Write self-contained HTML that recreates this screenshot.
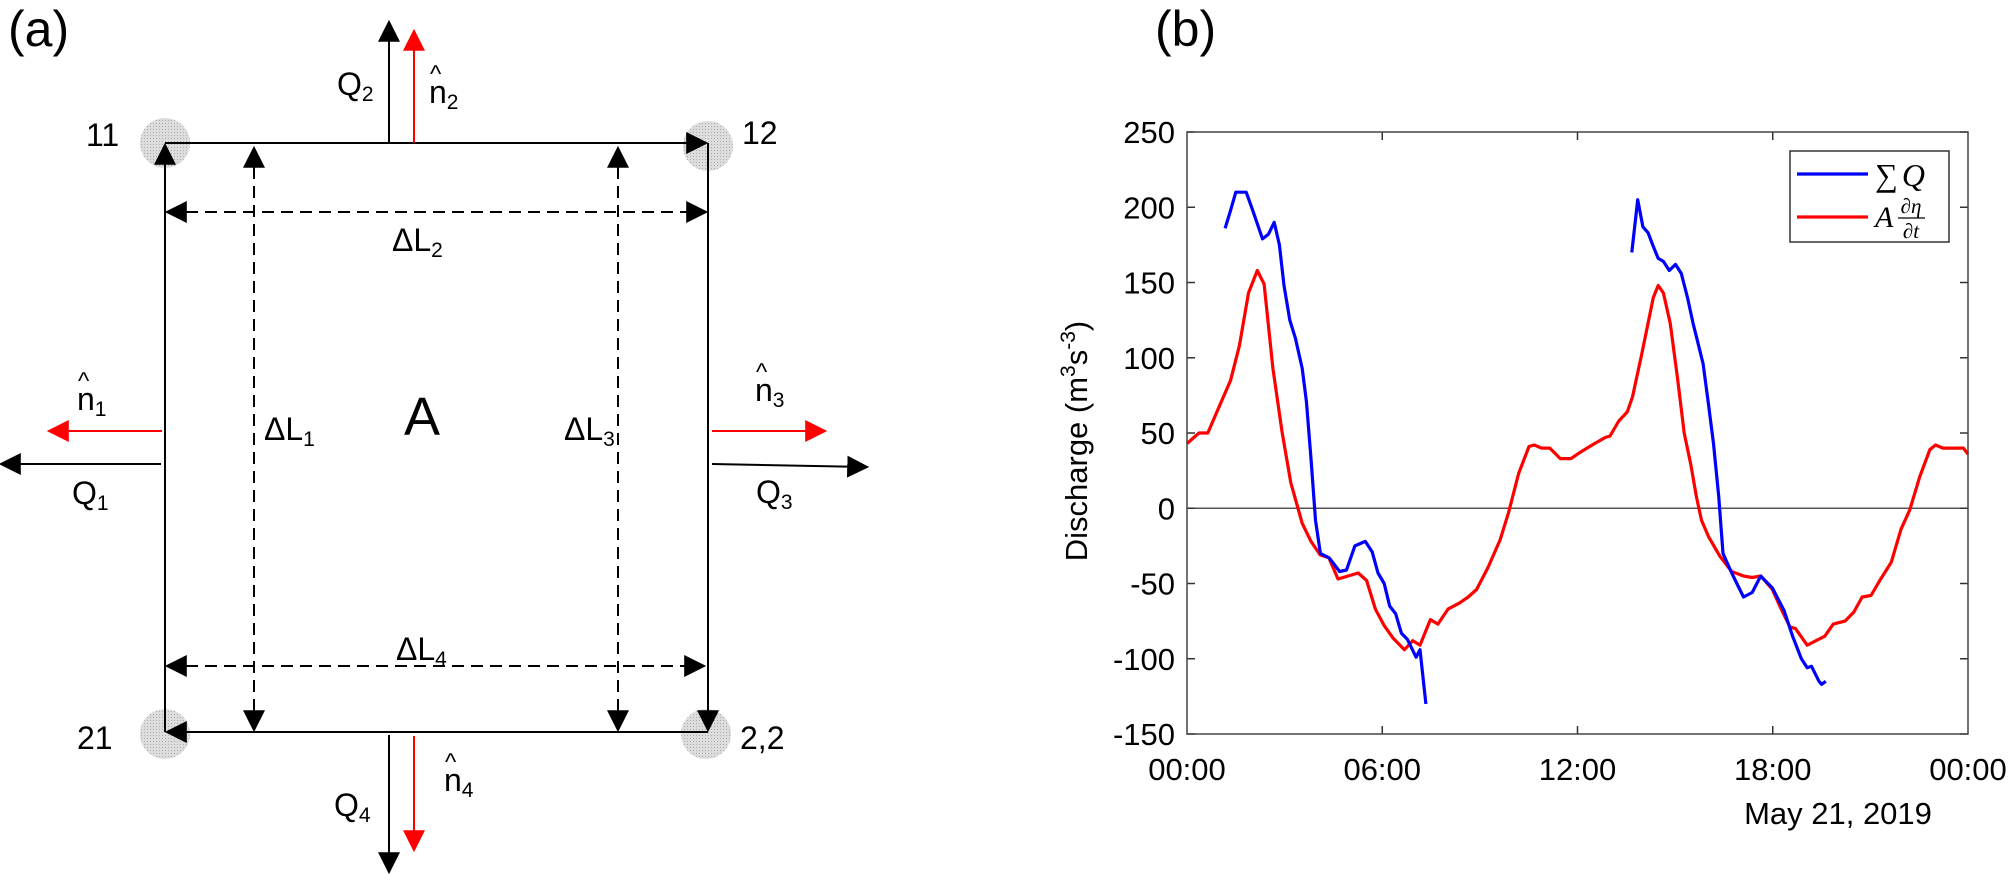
<!DOCTYPE html>
<html><head><meta charset="utf-8"><style>
body{margin:0;background:#fff;}
svg{display:block;font-family:"Liberation Sans",sans-serif;}
</style></head><body>
<svg id="fig" width="2009" height="874" viewBox="0 0 2009 874" xmlns="http://www.w3.org/2000/svg">
<defs>
<marker id="ab" viewBox="0 0 10 10" refX="9" refY="5" markerWidth="22" markerHeight="22" markerUnits="userSpaceOnUse" orient="auto-start-reverse"><path d="M0,0 L10,5 L0,10 z" fill="#000"/></marker>
<marker id="ar" viewBox="0 0 10 10" refX="9" refY="5" markerWidth="22" markerHeight="22" markerUnits="userSpaceOnUse" orient="auto"><path d="M0,0 L10,5 L0,10 z" fill="#f00"/></marker>
<pattern id="dots" width="3" height="3" patternUnits="userSpaceOnUse"><rect width="3" height="3" fill="#ddd"/><rect width="1" height="1" fill="#aaa"/></pattern>
</defs>
<g>
<text x="8" y="46" font-size="50">(a)</text>
<circle cx="165" cy="143" r="25" fill="url(#dots)"/>
<circle cx="708" cy="146" r="25" fill="url(#dots)"/>
<circle cx="165" cy="734" r="25" fill="url(#dots)"/>
<circle cx="706" cy="734" r="25" fill="url(#dots)"/>
<g stroke="#000" stroke-width="2" fill="none">
<line x1="165" y1="143" x2="706" y2="143" marker-end="url(#ab)"/>
<line x1="708" y1="143" x2="708" y2="730" marker-end="url(#ab)"/>
<line x1="708" y1="732" x2="167" y2="732" marker-end="url(#ab)"/>
<line x1="165" y1="732" x2="165" y2="145" marker-end="url(#ab)"/>
</g>
<g stroke="#000" stroke-width="2" stroke-dasharray="12,7" fill="none">
<line x1="254" y1="148" x2="254" y2="730" marker-start="url(#ab)" marker-end="url(#ab)"/>
<line x1="618" y1="148" x2="618" y2="730" marker-start="url(#ab)" marker-end="url(#ab)"/>
<line x1="167" y1="212" x2="706" y2="212" marker-start="url(#ab)" marker-end="url(#ab)"/>
<line x1="167" y1="666" x2="704" y2="666" marker-start="url(#ab)" marker-end="url(#ab)"/>
</g>
<g stroke-width="2" fill="none">
<line x1="389" y1="143" x2="389" y2="22" stroke="#000" marker-end="url(#ab)"/>
<line x1="414" y1="143" x2="414" y2="31" stroke="#f00" marker-end="url(#ar)"/>
<line x1="389" y1="735" x2="389" y2="872" stroke="#000" marker-end="url(#ab)"/>
<line x1="414" y1="736" x2="414" y2="850" stroke="#f00" marker-end="url(#ar)"/>
<line x1="162" y1="431" x2="49" y2="431" stroke="#f00" marker-end="url(#ar)"/>
<line x1="161" y1="464" x2="1" y2="464" stroke="#000" marker-end="url(#ab)"/>
<line x1="712" y1="431" x2="825" y2="431" stroke="#f00" marker-end="url(#ar)"/>
<line x1="712" y1="464" x2="867" y2="467" stroke="#000" marker-end="url(#ab)"/>
</g>
<g font-size="32" fill="#000">
<text x="86" y="146">11</text><text x="742" y="144">12</text>
<text x="77" y="749">21</text><text x="740" y="749">2,2</text>
<text x="337" y="95">Q<tspan font-size="21" dy="6">2</tspan></text>
<text x="334" y="816">Q<tspan font-size="21" dy="6">4</tspan></text>
<text x="72" y="504">Q<tspan font-size="21" dy="6">1</tspan></text>
<text x="756" y="503">Q<tspan font-size="21" dy="6">3</tspan></text>
<text x="429" y="103">n<tspan font-size="21" dy="6">2</tspan></text><text x="430" y="82" font-size="24">^</text>
<text x="77" y="410">n<tspan font-size="21" dy="6">1</tspan></text><text x="78" y="389" font-size="24">^</text>
<text x="755" y="401">n<tspan font-size="21" dy="6">3</tspan></text><text x="756" y="380" font-size="24">^</text>
<text x="444" y="791">n<tspan font-size="21" dy="6">4</tspan></text><text x="445" y="770" font-size="24">^</text>
<text x="392" y="251">ΔL<tspan font-size="21" dy="6">2</tspan></text>
<text x="396" y="660">ΔL<tspan font-size="21" dy="6">4</tspan></text>
<text x="264" y="440">ΔL<tspan font-size="21" dy="6">1</tspan></text>
<text x="564" y="440">ΔL<tspan font-size="21" dy="6">3</tspan></text>
<text x="404" y="435" font-size="54">A</text>
</g>
</g>
<text x="1155" y="46" font-size="50">(b)</text>
<g id="chart"></g>
</svg>
<script>
const hoursRed=[0,0.37,0.64,0.92,1.34,1.61,1.89,2.16,2.37,2.64,2.92,3.19,3.54,3.81,4.09,4.36,4.64,5.26,5.52,5.79,6.06,6.32,6.68,6.94,7.16,7.48,7.71,8.02,8.37,8.64,8.9,9.26,9.62,9.88,10.19,10.51,10.67,10.9,11.15,11.47,11.8,12.14,12.53,12.85,13.0,13.27,13.53,13.69,13.96,14.17,14.33,14.48,14.64,14.85,15.07,15.28,15.49,15.65,15.81,16.03,16.38,16.74,17.1,17.37,17.63,17.99,18.26,18.53,18.7,19.06,19.33,19.6,19.86,20.22,20.49,20.75,21.02,21.29,21.64,21.94,22.21,22.52,22.83,23.0,23.23,23.86,24.0];
const valuesRed=[43,50,50,64,85,108,143,158,149,93,51,17,-10,-22,-31,-33,-47,-43,-48,-67,-78,-86,-94,-88,-91,-74,-77,-67,-63,-59,-54,-39,-21,-3,23,41,42,40,40,33,33,38,43,47,48,58,64,74,101,123,140,148,143,123,87,50,28,8,-8,-19,-32,-42,-45,-46,-45,-54,-67,-79,-80,-91,-88,-85,-77,-75,-69,-59,-58,-48,-36,-14,-1,21,39,42,40,40,36];
const hoursBlue1=[1.17,1.34,1.5,1.82,2.02,2.32,2.5,2.68,2.84,2.98,3.16,3.33,3.54,3.67,3.81,3.95,4.1,4.37,4.69,4.9,5.16,5.48,5.69,5.87,6.06,6.23,6.41,6.59,6.77,7.04,7.16,7.34];
const valuesBlue1=[186,198,210,210,198,179,182,190,175,148,125,113,93,71,33,-8,-30,-33,-42,-41,-25,-22,-29,-43,-50,-65,-70,-83,-87,-99,-94,-130];
const hoursBlue2=[13.67,13.85,14.01,14.17,14.33,14.48,14.64,14.82,15.01,15.19,15.38,15.55,15.7,15.86,16.02,16.18,16.34,16.47,16.74,17.1,17.37,17.63,17.99,18.35,18.61,18.88,19.06,19.19,19.42,19.5,19.63];
const valuesBlue2=[170,205,187,183,174,166,164,158,162,156,140,123,110,96,70,43,8,-30,-43,-59,-56,-45,-53,-68,-85,-100,-106,-105,-115,-117,-115];
const yTicks=[250,200,150,100,50,0,-50,-100,-150];
const xTickHours=[0,6,12,18,24];
const xTickLabels=["00:00","06:00","12:00","18:00","00:00"];
const L=1187,R=1968,T=132,B=734;
const xS=h=>L+(h/24)*(R-L);
const yS=v=>T+(250-v)/400*(B-T);
const NS="http://www.w3.org/2000/svg";
const g=document.getElementById('chart');
function mk(tag,attrs,parent){const e=document.createElementNS(NS,tag);for(const k in attrs)e.setAttribute(k,attrs[k]);(parent||g).appendChild(e);return e;}
const zero=mk('line',{x1:L,x2:R,y1:yS(0),y2:yS(0),stroke:'#555','stroke-width':1.5});


yTicks.forEach(v=>{
  const y=yS(v);
  mk('line',{x1:L,x2:L+8,y1:y,y2:y,stroke:'#333','stroke-width':1.5});
  mk('line',{x1:R-8,x2:R,y1:y,y2:y,stroke:'#333','stroke-width':1.5});
  const t=mk('text',{x:1175,y:y+11,'font-size':31,'text-anchor':'end'});
  t.textContent=v;
  
  
});
xTickHours.forEach((h,i)=>{
  const x=xS(h);
  if(i>0&&i<xTickHours.length-1){
    mk('line',{x1:x,x2:x,y1:B,y2:B-8,stroke:'#333','stroke-width':1.5});
    mk('line',{x1:x,x2:x,y1:T,y2:T+8,stroke:'#333','stroke-width':1.5});
  }
  const t=mk('text',{x:x,y:780,'font-size':31,'text-anchor':'middle'});
  t.textContent=xTickLabels[i];
  
  
});
function series(hs,vs,color,name){
  const p=mk('polyline',{points:hs.map((h,i)=>xS(h).toFixed(1)+','+yS(vs[i]).toFixed(1)).join(' '),fill:'none',stroke:color,'stroke-width':3.2,'stroke-linejoin':'round'});
  
  
}
series(hoursRed,valuesRed,'#ff0000','series-a-deta-dt');
series(hoursBlue1,valuesBlue1,'#0000ff','series-sum-q-1');
series(hoursBlue2,valuesBlue2,'#0000ff','series-sum-q-2');
const frame=mk('rect',{x:L,y:T,width:R-L,height:B-T,fill:'none',stroke:'#444','stroke-width':1.5});


const dt=mk('text',{x:1838,y:824,'font-size':31,'text-anchor':'middle'});
dt.textContent='May 21, 2019';


const yt=mk('text',{transform:'translate(1087,441) rotate(-90)','font-size':31,'text-anchor':'middle'});
yt.innerHTML='Discharge (m<tspan dy="-12" font-size="21">3</tspan><tspan dy="12">s</tspan><tspan dy="-12" font-size="21">-3</tspan><tspan dy="12">)</tspan>';


const lg=mk('g',{});


mk('rect',{x:1790,y:151,width:159,height:91,fill:'#fff',stroke:'#333','stroke-width':1.5},lg);
mk('line',{x1:1797,x2:1868,y1:174,y2:174,stroke:'#0000ff','stroke-width':3.2},lg);
mk('line',{x1:1797,x2:1868,y1:217,y2:217,stroke:'#ff0000','stroke-width':3.2},lg);
const l1=mk('text',{x:1875,y:186,'font-size':32,'font-family':'Liberation Serif, serif'},lg);
l1.innerHTML='∑<tspan font-style="italic" dx="4">Q</tspan>';


const l2=mk('text',{x:1875,y:227,'font-size':30,'font-family':'Liberation Serif, serif','font-style':'italic'},lg);
l2.textContent='A';


const f1=mk('text',{x:1911,y:213,'font-size':21,'font-family':'Liberation Serif, serif','font-style':'italic','text-anchor':'middle'},lg);
f1.textContent='∂η';
mk('line',{x1:1898,x2:1925,y1:218,y2:218,stroke:'#000','stroke-width':1.2},lg);
const f2=mk('text',{x:1911,y:238,'font-size':21,'font-family':'Liberation Serif, serif','font-style':'italic','text-anchor':'middle'},lg);
f2.textContent='∂t';
</script>
</body></html>
